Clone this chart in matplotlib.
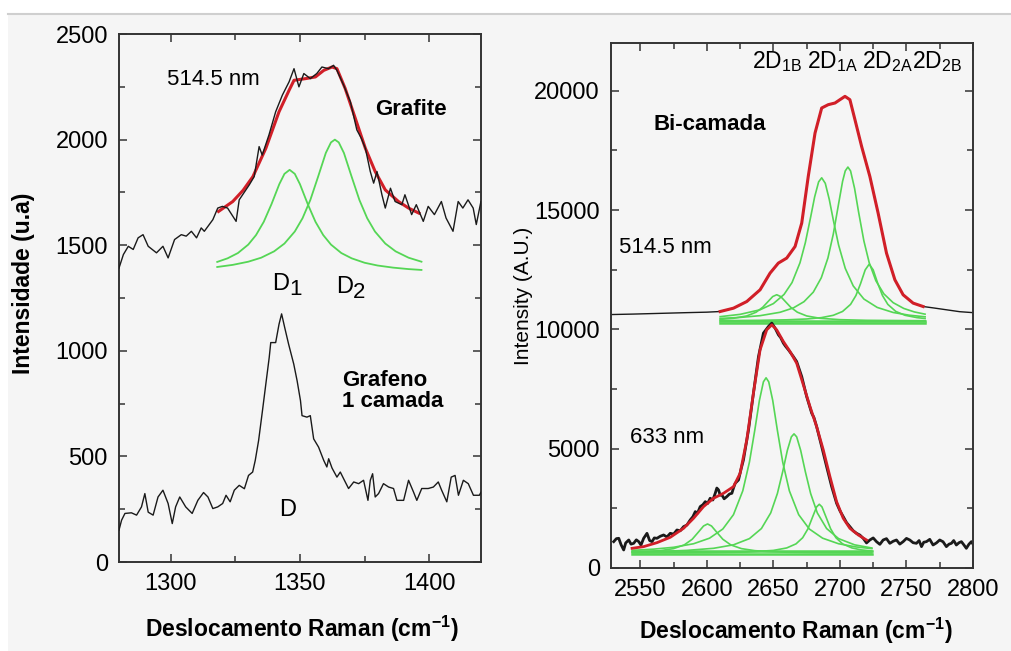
import numpy as np
import matplotlib
matplotlib.use("Agg")
import matplotlib.pyplot as plt
from matplotlib.ticker import MultipleLocator
from matplotlib.patches import Rectangle
from matplotlib.lines import Line2D

plt.rcParams['font.family'] = ['Liberation Sans', 'DejaVu Sans']
plt.rcParams['mathtext.fontset'] = 'custom'
plt.rcParams['mathtext.rm'] = 'Liberation Sans'
plt.rcParams['mathtext.bf'] = 'Liberation Sans:bold'
plt.rcParams['mathtext.it'] = 'Liberation Sans:italic'

RED = '#d11f28'
GREEN = '#55d655'
BLACK = '#1a1a1a'

# ---------------- D band (left) ----------------
grafite = [(1280, 1392), (1281.7, 1456), (1283.6, 1495), (1285.5, 1480), (1287.4, 1535),
           (1289.3, 1550), (1291.3, 1495), (1294.5, 1464), (1297, 1495), (1299, 1440),
           (1301.5, 1527), (1304.1, 1550), (1306, 1543), (1308, 1566), (1310, 1535),
           (1311.8, 1582), (1313, 1566), (1316.3, 1621), (1318.2, 1676), (1320, 1684),
           (1322, 1676), (1325.3, 1613), (1326.5, 1715), (1330.4, 1786), (1332.3, 1825),
           (1334.2, 1967), (1335.4, 1927), (1338, 2022), (1340.6, 2132), (1343.2, 2211),
           (1345.8, 2274), (1347.7, 2336), (1349.6, 2250), (1351.5, 2313), (1354, 2289),
           (1356.5, 2313), (1358.5, 2344), (1361, 2336), (1363, 2352), (1364.3, 2328),
           (1366.9, 2258), (1369.5, 2179), (1372, 2046), (1373.7, 2007), (1375.3, 1959),
           (1377.2, 1849), (1378.5, 1794), (1379.8, 1849), (1381.7, 1739), (1383, 1676),
           (1385, 1770), (1386.8, 1707), (1389.4, 1692), (1390.6, 1739), (1393.2, 1645),
           (1395, 1692), (1397.7, 1613), (1399.6, 1684), (1402, 1645), (1404.7, 1707),
           (1406.5, 1629), (1409.2, 1566), (1411.2, 1707), (1413, 1676), (1415, 1715),
           (1417, 1676), (1418.2, 1598), (1420, 1707)]

grafite_fit = [(1318.5, 1660), (1324, 1707), (1328, 1760), (1331.8, 1825), (1336.8, 1959),
               (1341.9, 2132), (1345.8, 2234), (1347.7, 2281), (1352.2, 2289), (1356, 2297),
               (1359.2, 2328), (1362.4, 2344), (1364.3, 2336), (1367.5, 2242), (1371.4, 2101),
               (1375.3, 1959), (1379.1, 1849), (1383, 1762), (1388.1, 1707), (1392, 1676),
               (1396, 1652)]

d1_comp = [(1318, 1421), (1322, 1438), (1326, 1463), (1330, 1503), (1333, 1548), (1336, 1611),
           (1339, 1695), (1342, 1789), (1344, 1838), (1346, 1857), (1348, 1838), (1350, 1789),
           (1353, 1695), (1356, 1611), (1359, 1548), (1362, 1503), (1366, 1463), (1370, 1438),
           (1375, 1417), (1380, 1404), (1386, 1394), (1392, 1387), (1397, 1383)]

d2_comp = [(1318, 1397), (1324, 1407), (1330, 1422), (1335, 1441), (1340, 1471), (1344, 1508),
           (1348, 1565), (1351, 1628), (1354, 1714), (1357, 1824), (1360, 1937), (1362, 1987),
           (1363.5, 2000), (1365, 1987), (1367, 1937), (1370, 1824), (1373, 1714), (1376, 1628),
           (1379, 1565), (1383, 1508), (1387, 1471), (1392, 1441), (1397, 1422)]

grafeno = [(1280, 151), (1281, 198), (1282.3, 230), (1284.8, 233), (1286.8, 222), (1288.7, 261),
           (1290, 324), (1291.3, 236), (1293.2, 222), (1295.1, 308), (1297, 340), (1299, 277),
           (1300.6, 182), (1301.9, 261), (1303.5, 308), (1305.8, 261), (1308.3, 230), (1310.5, 292),
           (1312.7, 329), (1314.4, 308), (1316.3, 253), (1318.2, 261), (1320.1, 277), (1321.4, 316),
           (1323, 285), (1324.6, 340), (1326.5, 363), (1328.5, 347), (1330.1, 410), (1331.7, 426),
           (1332.7, 481), (1334, 575), (1335.5, 717), (1336.8, 843), (1338.1, 968), (1338.7, 1039),
           (1340.6, 1039), (1341.9, 1126), (1342.9, 1175), (1344.1, 1110), (1345.6, 1032),
           (1347.6, 937), (1348.9, 858), (1350.2, 764), (1350.8, 693), (1352.7, 686), (1354, 693),
           (1355.3, 583), (1357.2, 544), (1359.2, 481), (1360.4, 450), (1361.1, 489), (1362.4, 445),
           (1364.3, 402), (1365.6, 426), (1366.9, 394), (1368.8, 348), (1370.8, 379), (1372.7, 371),
           (1374.6, 387), (1376.3, 292), (1377.2, 387), (1378.1, 418), (1379.1, 308), (1380.4, 324),
           (1382.3, 371), (1384.3, 355), (1386.2, 348), (1387.5, 292), (1390.1, 292), (1392, 387),
           (1393.9, 332), (1395.2, 292), (1397.1, 348), (1399.6, 348), (1401.6, 355), (1403.5, 379),
           (1404.8, 340), (1406.8, 285), (1408.5, 402), (1410, 410), (1411.3, 316), (1413.2, 387),
           (1415.1, 371), (1417.1, 316), (1419.4, 316), (1420, 330)]

# ---------------- 2D band (right) ----------------
bi514_left = [(2528, 10620), (2545, 10640), (2565, 10670), (2585, 10700), (2600, 10720)]
bi514_fit = [(2610, 10747), (2620, 10887), (2630, 11166), (2640, 11657), (2647.5, 12356),
             (2653.7, 12775), (2660, 12985), (2666.3, 13472), (2671.3, 14453), (2676.2, 16407),
             (2681.3, 18227), (2686.3, 19275), (2691.2, 19414), (2696.3, 19484), (2700, 19623),
             (2703.8, 19763), (2707.5, 19623), (2711.3, 18785), (2716.3, 17666), (2722.5, 16407),
             (2728.7, 14873), (2735, 13195), (2741.3, 12076), (2747.5, 11447), (2755, 11099),
             (2762.5, 10957)]
bi514_right = [(2770, 10900), (2780, 10820), (2790, 10740), (2800, 10700)]

c2d1b = [(2610, 10419), (2620, 10463), (2630, 10562), (2637, 10718), (2642, 10926), (2646, 11165),
         (2649.5, 11374), (2652.5, 11450), (2655.5, 11374), (2659, 11165), (2663, 10926),
         (2668, 10718), (2675, 10562), (2685, 10463), (2700, 10406), (2720, 10378), (2764, 10361)]
c2d1a = [(2610, 10532), (2625, 10628), (2640, 10820), (2650, 11079), (2658, 11462), (2664, 11959),
         (2670, 12791), (2674, 13629), (2678, 14704), (2681, 15549), (2684, 16181), (2686.3, 16350),
         (2689, 16119), (2692, 15443), (2695, 14590), (2699, 13533), (2704, 12557), (2710, 11820),
         (2718, 11271), (2728, 10919), (2740, 10707), (2752, 10593), (2764, 10526)]
c2d2a = [(2610, 10458), (2625, 10500), (2640, 10573), (2655, 10715), (2665, 10898), (2673, 11159),
         (2680, 11560), (2686, 12162), (2691, 12993), (2695, 13986), (2699, 15260), (2702, 16201),
         (2704, 16639), (2706, 16800), (2708, 16639), (2711, 15910), (2714, 14924), (2718, 13707),
         (2722, 12795), (2727, 12038), (2733, 11488), (2740, 11118), (2748, 10875), (2756, 10729),
         (2764, 10636)]
c2d2b = [(2610, 10365), (2640, 10378), (2660, 10399), (2675, 10434), (2686, 10490), (2695, 10588),
         (2702, 10750), (2708, 11046), (2712, 11415), (2715.5, 11914), (2719, 12492), (2722, 12730),
         (2725, 12492), (2728.5, 11914), (2732, 11415), (2736, 11046), (2742, 10750), (2749, 10588),
         (2758, 10490), (2764, 10454)]
base514 = [10370, 10260]
span514 = [2610, 2764]

bi633 = [(2530, 1104), (2532, 1230), (2533.8, 1244), (2535.5, 980), (2537.5, 755), (2539, 1050),
         (2541.3, 1174), (2543, 1000), (2545, 1034), (2547, 1180), (2548.8, 1104), (2550.5, 960),
         (2552.5, 1244), (2555, 1453), (2557, 1150), (2558.8, 1104), (2560.5, 1260), (2562.5, 1244),
         (2565, 1330), (2567.5, 1384), (2570, 1300), (2572.5, 1453), (2575, 1420), (2577.5, 1593),
         (2580, 1560), (2582.5, 1732), (2585, 1800), (2587.5, 2013), (2589.5, 2150), (2591.3, 2362),
         (2593, 2300), (2595, 2572), (2597, 2650), (2598.8, 2781), (2600.5, 2700), (2602.5, 2921),
         (2604.5, 2850), (2606.3, 3131), (2607.5, 3350), (2608.8, 3271), (2610, 3050), (2611.3, 3061),
         (2613, 2900), (2615, 2991), (2617, 3100), (2618.8, 3131), (2620, 3350), (2621.3, 3551),
         (2623.8, 3690), (2625.5, 4100), (2627.5, 4528), (2631.3, 5786), (2635, 7325), (2638.8, 8860),
         (2642.5, 9841), (2646.3, 10120), (2648.8, 10260), (2651.3, 10050), (2653.8, 9770),
         (2655.5, 9650), (2657.5, 9422), (2659, 9300), (2661.3, 9141), (2665, 8860), (2667.5, 8650),
         (2671.3, 8021), (2675, 7183), (2678.8, 6486), (2680.5, 6300), (2682.5, 5925), (2686.3, 5086),
         (2690, 4248), (2693.8, 3409), (2697.5, 2713), (2700, 2400), (2702.5, 2151), (2705, 1900),
         (2707.5, 1732), (2710, 1560), (2712.5, 1453), (2715, 1380), (2717.5, 1244), (2720, 1050),
         (2722.5, 1174), (2725, 1260), (2727.5, 1104), (2730, 990), (2732.5, 1174), (2735, 1230),
         (2737.5, 1034), (2740, 1120), (2742.5, 1174), (2745, 1000), (2747.5, 1104), (2750, 1240),
         (2752.5, 1174), (2755, 1060), (2757.5, 1034), (2759.5, 1150), (2761.3, 895), (2763, 1080),
         (2765, 1104), (2767.5, 1200), (2770, 964), (2772.5, 1050), (2775, 1174), (2777.5, 1100),
         (2780, 895), (2782, 1000), (2783.8, 1034), (2785.5, 1150), (2787.5, 964), (2789.5, 1060),
         (2791.3, 1104), (2793, 980), (2795, 825), (2797, 1000), (2798.8, 1104), (2800, 1000)]

bi633_fit = [(2543.8, 825), (2552.5, 895), (2562.5, 1062), (2572.5, 1286), (2582.5, 1663),
             (2590, 2083), (2597.5, 2572), (2605, 2921), (2612.5, 3131), (2620, 3409), (2625, 3969),
             (2630, 5367), (2635, 7325), (2640, 9141), (2645, 9979), (2648.8, 10189), (2652.5, 9979),
             (2657.5, 9490), (2662.5, 9071), (2667.5, 8581), (2672.5, 7673), (2677.5, 6765),
             (2682.5, 5925), (2687.5, 4948), (2692.5, 3829), (2697.5, 2781), (2702.5, 2083),
             (2707.5, 1663), (2713.8, 1384), (2720, 1174)]

p1 = [(2544, 665), (2555, 688), (2565, 727), (2575, 812), (2583, 967), (2589, 1205), (2594, 1528),
      (2597.5, 1760), (2600.5, 1845), (2603.5, 1760), (2607, 1528), (2612, 1205), (2618, 967),
      (2626, 812), (2636, 727), (2646, 688), (2660, 660), (2680, 643), (2700, 635), (2724, 630)]
p2 = [(2544, 741), (2560, 790), (2575, 868), (2590, 1016), (2602, 1249), (2612, 1634), (2620, 2235),
      (2627, 3234), (2632, 4439), (2636, 5769), (2639.5, 7023), (2642.5, 7800), (2644.5, 7970),
      (2646.5, 7800), (2649.5, 7023), (2653, 5769), (2657, 4439), (2662, 3234), (2669, 2235),
      (2677, 1634), (2687, 1249), (2699, 1016), (2712, 883), (2724, 811)]
p3 = [(2544, 672), (2565, 696), (2585, 738), (2605, 825), (2620, 971), (2632, 1231), (2641, 1653),
      (2648, 2309), (2653, 3120), (2657, 4039), (2660.5, 4930), (2663.5, 5495), (2665.5, 5620),
      (2667.5, 5495), (2670.5, 4930), (2674, 4039), (2678, 3120), (2683, 2309), (2690, 1653),
      (2699, 1231), (2711, 971), (2724, 838)]
p4 = [(2544, 627), (2600, 641), (2630, 669), (2650, 737), (2660, 840), (2667, 1011), (2672, 1268),
      (2676, 1645), (2679.5, 2143), (2682.5, 2562), (2684.5, 2670), (2686.5, 2562), (2689.5, 2143),
      (2693, 1645), (2697, 1268), (2702, 1011), (2709, 840), (2716, 759), (2724, 711)]
base633 = [700, 600]
span633 = [2544, 2724]


def xy(pairs):
    a = np.array(pairs, dtype=float)
    return a[:, 0], a[:, 1]


def style(ax):
    ax.set_facecolor('none')
    ax.tick_params(which='both', direction='in', top=True, right=True,
                   labelsize=17, width=1.1, color='#333333', pad=8)
    ax.tick_params(which='major', length=6)
    ax.tick_params(which='minor', length=4)
    for s in ax.spines.values():
        s.set_linewidth(1.4)
        s.set_color('#333333')


def sub_label(ax, x, y, main, sub):
    ax.text(x, y, main, fontsize=17, ha='left', va='center')
    ax.annotate(sub, (x, y), xytext=(12.5, -4), textcoords='offset points',
                fontsize=16, ha='left', va='center')


fig = plt.figure(figsize=(10.11, 6.51), dpi=100, facecolor='#f5f5f5')
fig.patches.append(Rectangle((0, 1 - 13 / 651), 1, 13 / 651, transform=fig.transFigure,
                             facecolor='white', edgecolor='none', zorder=0))
fig.patches.append(Rectangle((0, 0), 8 / 1011, 1, transform=fig.transFigure,
                             facecolor='white', edgecolor='none', zorder=0))
fig.lines.append(Line2D([8 / 1011, 1], [1 - 14 / 651] * 2, transform=fig.transFigure,
                        color='#cfcfcf', lw=1.5))

# left panel
ax1 = fig.add_axes([0.1177, 0.1367, 0.358, 0.811])
style(ax1)
ax1.plot(*xy(grafite_fit), color=RED, lw=2.2, zorder=2)
ax1.plot(*xy(grafite), color=BLACK, lw=1.0, zorder=3)
ax1.plot(*xy(d1_comp), color=GREEN, lw=1.3, zorder=2)
ax1.plot(*xy(d2_comp), color=GREEN, lw=1.3, zorder=2)
ax1.plot(*xy(grafeno), color=BLACK, lw=1.0, zorder=3)
ax1.set_xlim(1280, 1420)
ax1.set_ylim(0, 2500)
ax1.xaxis.set_major_locator(MultipleLocator(50))
ax1.xaxis.set_minor_locator(MultipleLocator(25))
ax1.yaxis.set_major_locator(MultipleLocator(500))
ax1.yaxis.set_minor_locator(MultipleLocator(250))
ax1.set_xlabel(r'Deslocamento Raman (cm$^{\mathbf{-1}}$)', fontsize=16.5, fontweight='bold')
ax1.set_ylabel('Intensidade (u.a)', fontsize=16.5, fontweight='bold')
ax1.xaxis.set_label_coords(0.505, -0.098)
ax1.yaxis.set_label_coords(-0.232, 0.527)
ax1.text(1298.5, 2283, '514.5 nm', fontsize=16, va='center')
ax1.text(1379.2, 2141, 'Grafite', fontsize=16, fontweight='bold', va='center')
ax1.text(1366.2, 811, 'Grafeno\n1 camada', fontsize=16, fontweight='bold', va='center',
         linespacing=1.0)
sub_label(ax1, 1339.2, 1316, 'D', '1')
sub_label(ax1, 1363.8, 1302, 'D', '2')
ax1.text(1341.9, 245, 'D', fontsize=17, va='center')

# right panel
ax2 = fig.add_axes([0.6044, 0.1275, 0.358, 0.8065])
style(ax2)
bx514, by514 = xy(bi514_left + bi514_fit + bi514_right)
ax2.plot(bx514, by514, color=BLACK, lw=1.0, zorder=2)
ax2.plot(*xy(bi514_fit), color=RED, lw=2.2, zorder=3)
for comp in (c2d1b, c2d1a, c2d2a, c2d2b):
    ax2.plot(*xy(comp), color=GREEN, lw=1.2, zorder=2)
for b in base514:
    ax2.plot(span514, [b, b], color=GREEN, lw=1.8, zorder=2)

ax2.plot(*xy(bi633), color=BLACK, lw=2.0, zorder=2)
ax2.plot(*xy(bi633_fit), color=RED, lw=2.0, zorder=3)
for comp in (p1, p2, p3, p4):
    ax2.plot(*xy(comp), color=GREEN, lw=1.2, zorder=2)
for b in base633:
    ax2.plot(span633, [b, b], color=GREEN, lw=1.8, zorder=2)

ax2.set_xlim(2528, 2800)
ax2.set_ylim(0, 22000)
ax2.xaxis.set_major_locator(MultipleLocator(50))
ax2.xaxis.set_minor_locator(MultipleLocator(25))
ax2.yaxis.set_major_locator(MultipleLocator(5000))
ax2.yaxis.set_minor_locator(MultipleLocator(2500))
ax2.set_xlabel(r'Deslocamento Raman (cm$^{\mathbf{-1}}$)', fontsize=16.5, fontweight='bold')
ax2.set_ylabel('Intensity (A.U.)', fontsize=15)
ax2.xaxis.set_label_coords(0.511, -0.091)
ax2.yaxis.set_label_coords(-0.215, 0.518)
ax2.text(2559.8, 18575, 'Bi-camada', fontsize=16, fontweight='bold', va='center')
ax2.text(2534.3, 13418, '514.5 nm', fontsize=16, va='center')
ax2.text(2542.5, 5451, '633 nm', fontsize=16, va='center')
for x0, lab in [(2634, '1B'), (2675.3, '1A'), (2716.5, '2A'), (2754, '2B')]:
    ax2.text(x0, 21217, r'2D$_{\mathrm{%s}}$' % lab, fontsize=16.5, va='center')

fig.savefig('out.png', dpi=100, facecolor=fig.get_facecolor())
